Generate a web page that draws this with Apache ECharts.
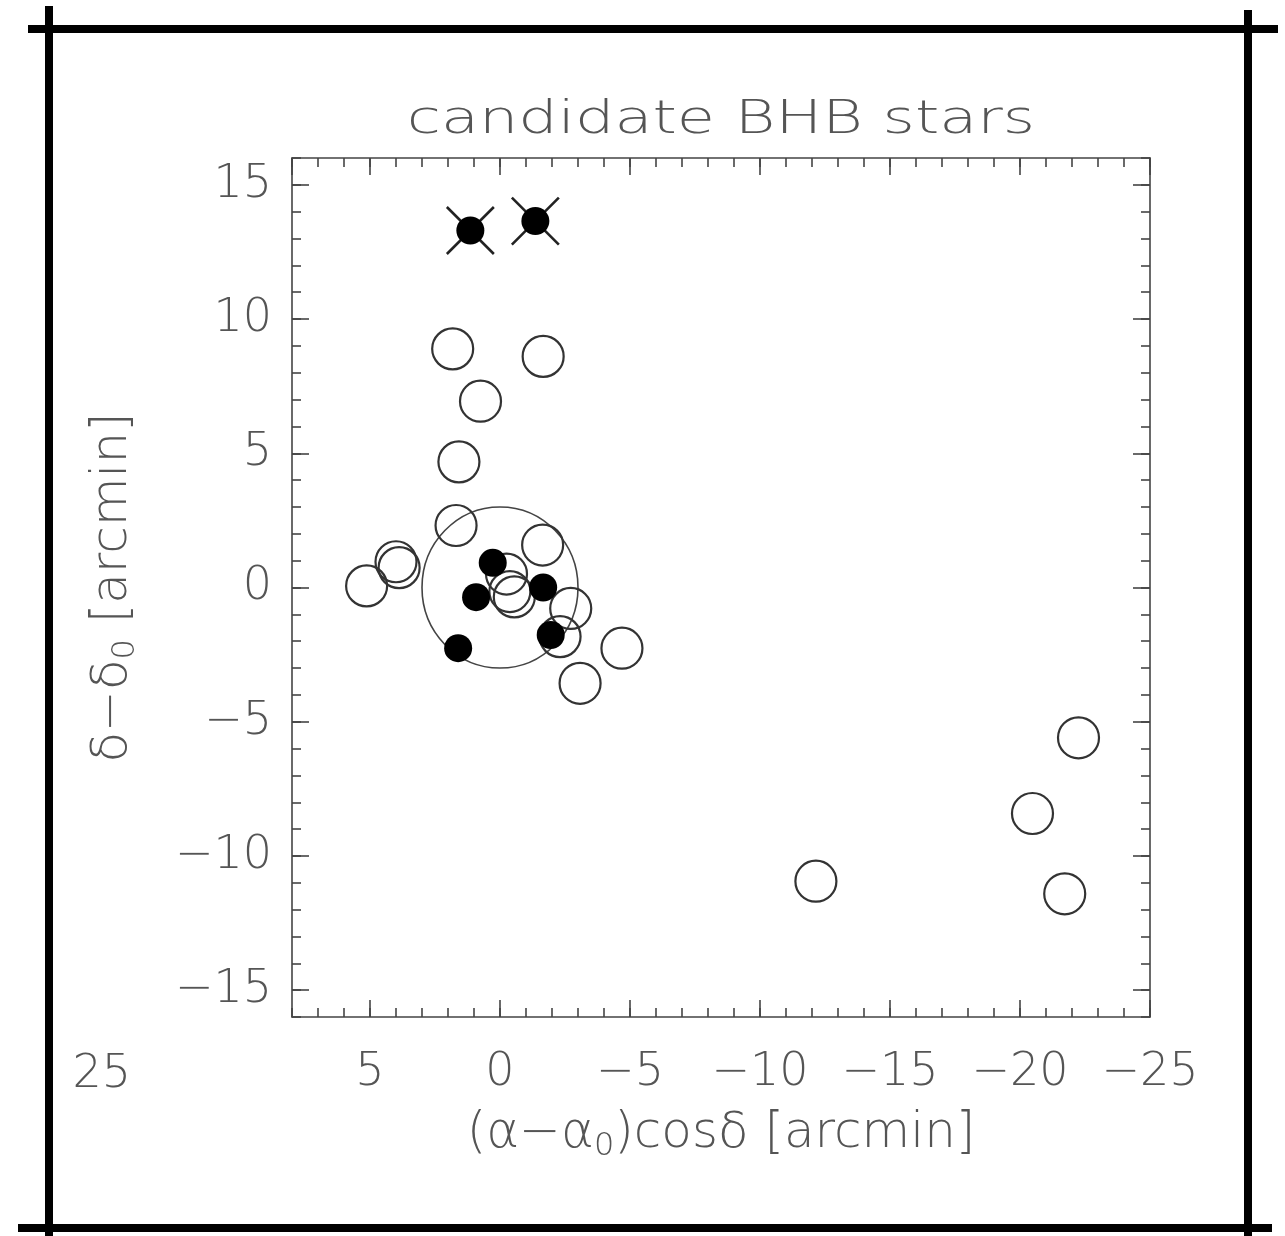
<!DOCTYPE html>
<html>
<head>
<meta charset="utf-8">
<style>
html,body{margin:0;padding:0;background:#fff;}
#chart{width:1285px;height:1236px;}
</style>
<script src="https://cdn.jsdelivr.net/npm/echarts@6/dist/echarts.min.js"></script>
</head>
<body>
<div id="chart"></div>
<script>
// ---- data (arcmin) ----
var openStars = [
  [1.82, 8.89], [-1.66, 8.61], [0.75, 6.94], [1.58, 4.68], [1.69, 2.31],
  [-1.64, 1.58], [4.0, 0.96], [3.88, 0.74], [5.13, 0.06], [-0.25, 0.5],
  [-0.38, -0.15], [-0.55, -0.35], [-2.72, -0.78], [-2.31, -1.83], [-4.69, -2.26],
  [-3.08, -3.57], [-12.15, -10.94], [-22.25, -5.6], [-20.48, -8.42], [-21.72, -11.41]
];
var filledStars = [
  [0.28, 0.92], [0.92, -0.36], [-1.66, 0.0], [-1.95, -1.77], [1.61, -2.26],
  [1.14, 13.3], [-1.36, 13.65]
];
var crossedStars = [
  [1.14, 13.3], [-1.36, 13.65]
];
var refCircle = [[0, 0, 3]];   // centre x, centre y, radius (arcmin)
var yMajorTicks = [-15, -10, -5, 0, 5, 10, 15];
var titleText = 'candidate BHB stars';
var strayLabel = '25';

var FONT = '"DejaVu Sans", "Liberation Sans", sans-serif';
var TXT = '#555';
var LINE = '#444';
function minus(v){ return String(v).replace('-', '\u2212'); }

var chart = echarts.init(document.getElementById('chart'), null, {renderer:'canvas'});
var axisLineStyle = {color: LINE, width: 1.6};

function xAx(pos, major){
  return {
    type: 'value', position: pos, min: -25, max: 8, inverse: true,
    interval: major ? 5 : 1,
    axisLine: {show: major, onZero: false, lineStyle: axisLineStyle},
    axisTick: {show: true, inside: true, length: major ? 17 : 9, lineStyle: axisLineStyle},
    axisLabel: {show: major && pos === 'bottom', showMaxLabel: false, margin: 33,
      formatter: function(v){ return minus(v); }, color: TXT, fontSize: 46, fontFamily: FONT, fontWeight: 200},
    splitLine: {show: false},
    name: (major && pos === 'bottom') ? '{p|(\u03b1\u2212\u03b1}{s|0}{p|)cos\u03b4 [arcmin]}' : '',
    nameLocation: 'middle', nameGap: 88,
    nameTextStyle: {rich: {
      p: {color: TXT, fontSize: 50, fontFamily: FONT, fontWeight: 200},
      s: {color: TXT, fontSize: 32, fontFamily: FONT, fontWeight: 200, verticalAlign: 'bottom', padding: [26, 0, 0, 0]}
    }}
  };
}
function yAx(pos, major){
  var a = {
    type: 'value', position: pos, min: -16, max: 16,
    axisLine: {show: major, onZero: false, lineStyle: axisLineStyle},
    axisTick: {show: true, inside: true, length: major ? 17 : 9, lineStyle: axisLineStyle},
    axisLabel: {show: major && pos === 'left', margin: 20, padding: [9, 0, 0, 0],
      formatter: function(v){ return minus(v); }, color: TXT, fontSize: 46, fontFamily: FONT, fontWeight: 200},
    splitLine: {show: false},
    name: (major && pos === 'left') ? '{p|\u03b4\u2212\u03b4}{s|0}{p| [arcmin]}' : '',
    nameLocation: 'middle', nameGap: 150, nameRotate: 90,
    nameTextStyle: {rich: {
      p: {color: TXT, fontSize: 50, fontFamily: FONT, fontWeight: 200},
      s: {color: TXT, fontSize: 32, fontFamily: FONT, fontWeight: 200, verticalAlign: 'bottom', padding: [26, 0, 0, 0]}
    }}
  };
  if (major) {
    a.axisTick.customValues = yMajorTicks;
    a.axisLabel.customValues = yMajorTicks;
  } else {
    a.interval = 1;
  }
  return a;
}

var option = {
  backgroundColor: '#fff',
  animation: false,
  grid: {left: 292, right: 135, top: 158, bottom: 219, containLabel: false},
  xAxis: [xAx('bottom', true), xAx('bottom', false), xAx('top', true), xAx('top', false)],
  yAxis: [yAx('left', true), yAx('left', false), yAx('right', true), yAx('right', false)],
  series: [
    {
      type: 'custom', silent: true, xAxisIndex: 0, yAxisIndex: 0, z: 1,
      data: refCircle,
      renderItem: function(params, api){
        var c = api.coord([api.value(0), api.value(1)]);
        var s = api.size([api.value(2), api.value(2)]);
        return {type: 'ellipse', shape: {cx: c[0], cy: c[1], rx: Math.abs(s[0]), ry: Math.abs(s[1])},
          style: {fill: 'none', stroke: LINE, lineWidth: 1.6}};
      }
    },
    {
      type: 'scatter', silent: true, z: 2, data: openStars, symbol: 'circle', symbolSize: 41,
      itemStyle: {color: 'rgba(0,0,0,0)', borderColor: '#333', borderWidth: 2.2, opacity: 1}
    },
    {
      type: 'scatter', silent: true, z: 3, data: crossedStars,
      symbol: 'path://M0,0L10,10M10,0L0,10', symbolSize: 47,
      itemStyle: {color: 'none', borderColor: '#222', borderWidth: 2.6, opacity: 1}
    },
    {
      type: 'scatter', silent: true, z: 4, data: filledStars, symbol: 'circle', symbolSize: 28,
      itemStyle: {color: '#000', borderWidth: 0, opacity: 1}
    }
  ],
  graphic: [
    {type: 'text', x: 721, y: 121, scaleX: 1.35, silent: true,
      style: {text: titleText, fill: TXT, font: '200 46px ' + FONT, align: 'center', verticalAlign: 'middle'}},
    {type: 'text', x: 131, y: 1075, silent: true,
      style: {text: strayLabel, fill: TXT, font: '200 46px ' + FONT, align: 'right', verticalAlign: 'middle'}},
    // outer crop frame
    {type: 'line', silent: true, shape: {x1: 28, y1: 29, x2: 1278, y2: 29}, style: {stroke: '#000', lineWidth: 8}},
    {type: 'line', silent: true, shape: {x1: 18, y1: 1228, x2: 1272, y2: 1228}, style: {stroke: '#000', lineWidth: 8}},
    {type: 'line', silent: true, shape: {x1: 49, y1: 6, x2: 49, y2: 1236}, style: {stroke: '#000', lineWidth: 8}},
    {type: 'line', silent: true, shape: {x1: 1248, y1: 10, x2: 1248, y2: 1236}, style: {stroke: '#000', lineWidth: 8}}
  ]
};
chart.setOption(option);
</script>
</body>
</html>
